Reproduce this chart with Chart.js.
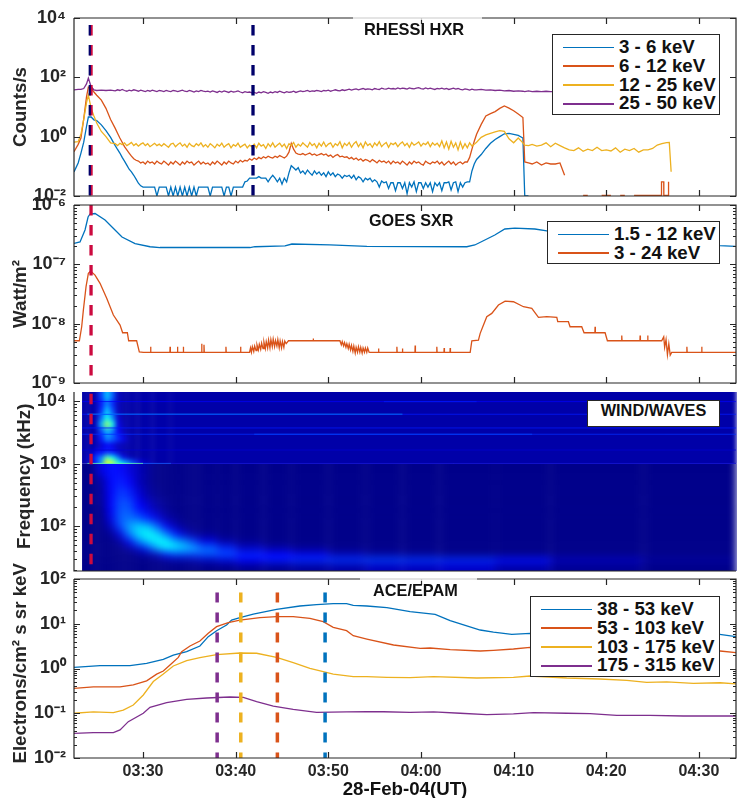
<!DOCTYPE html>
<html>
<head>
<meta charset="utf-8">
<title>28-Feb-04 event</title>
<script src="https://cdn.jsdelivr.net/npm/chart.js@4/dist/chart.umd.js"></script>
<style>
  html, body { margin: 0; padding: 0; background: #fff; overflow: hidden; }
  body { width: 737px; height: 798px; position: relative; font-family: "Liberation Sans", Arial, sans-serif; color: #111; }
  canvas { position: absolute; left: 0; }
  .legend { position: absolute; background: #fff; border: 1.3px solid #262626; box-sizing: border-box; font-weight: bold; font-size: 18.7px; line-height: 18.7px; padding-top: 3px; z-index: 5; }
  .legend div { display: flex; align-items: center; height: 18.8px; white-space: nowrap; }
  .legend i { display: block; height: 1.6px; width: 51px; margin: 0 5px 0 10px; }
  .title { position: absolute; font-weight: bold; white-space: nowrap; z-index: 4; }
  .veil { position: absolute; height: 3px; background: rgba(255,255,255,.75); z-index: 3; }
</style>
</head>
<body>
<script>
// minutes after 03:00 UT
const timeTicks = [30, 40, 50, 60, 70, 80, 90];

// RHESSI HXR, counts/s
const hxrLabels = ['3 - 6 keV', '6 - 12 keV', '12 - 25 keV', '25 - 50 keV'];
const hxrTimes = [
  22.55,23,23.3,23.6,23.9,24.1,24.4,24.7,25,25.5,26,26.5,
  27,27.25,27.5,27.75,28,28.25,28.5,28.75,29,29.25,29.5,29.75,30,30.25,30.5,30.75,31,31.25,31.5,31.75,
  32,32.25,32.5,32.75,33,33.25,33.5,33.75,34,34.25,34.5,34.75,35,35.25,35.5,35.75,36,36.25,36.5,36.75,
  37,37.25,37.5,37.75,38,38.25,38.5,38.75,39,39.25,39.5,39.75,40,40.25,40.5,40.75,41,41.25,41.5,41.75,
  42,42.25,42.5,42.75,43,43.25,43.5,43.75,44,44.25,44.5,44.75,45,45.25,45.5,45.75,46,46.25,46.5,46.75,
  47,47.25,47.5,47.75,48,48.25,48.5,48.75,49,49.25,49.5,49.75,50,50.25,50.5,50.75,51,51.25,51.5,51.75,
  52,52.25,52.5,52.75,53,53.25,53.5,53.75,54,54.25,54.5,54.75,55,55.25,55.5,55.75,56,56.25,56.5,56.75,
  57,57.25,57.5,57.75,58,58.25,58.5,58.75,59,59.25,59.5,59.75,60,60.25,60.5,60.75,61,61.25,61.5,61.75,
  62,62.25,62.5,62.75,63,63.25,63.5,63.75,64,64.25,64.5,64.75,65,65.25,65.5,65.75,
  66,66.5,67,67.5,68,68.5,69,69.5,70,70.5,
  71,71.2,71.6,72,72.5,73,73.5,74,74.5,75,
  75.5,76,76.5,77,77.5,78,78.5,79,79.5,80,
  80.5,81,81.5,82,82.5,83,83.5,84,84.5,85,
  85.5,86,86.5,86.8,87
];
const hxr3to6 = [
  .065,.13,.28,.65,2.2,4.6,4.6,3.7,3.5,2.5,1.6,.95,
  .5,.37,.28,.2,.15,.11,.08,.065,.05,.037,.027,.022,.02,.02,.02,.02,.02,.02,.01,.02,
  .02,.02,.02,.01,.02,.01,.02,.01,.02,.01,.02,.01,.02,.01,.02,.01,.02,.02,.02,.02,
  .02,.01,.02,.02,.02,.02,.02,.01,.02,.02,.01,.02,.02,.02,.02,.02,.03,.032,.04,.04,
  .04,.04,.045,.04,.04,.04,.03,.04,.05,.04,.03,.04,.025,.04,.03,.06,.105,.09,.075,.09,
  .06,.07,.055,.075,.06,.05,.07,.055,.065,.05,.06,.045,.065,.05,.06,.045,.055,.05,.04,.05,
  .045,.05,.04,.05,.035,.045,.04,.03,.04,.035,.04,.03,.035,.03,.02,.032,.028,.03,.018,.028,
  .028,.015,.028,.028,.018,.028,.012,.028,.02,.03,.014,.028,.028,.018,.028,.02,.028,.014,.028,.022,
  .028,.015,.028,.028,.03,.016,.028,.03,.014,.028,.02,.028,.03,.03,.07,.12,
  .17,.25,.4,.6,.8,1,1.25,1.3,1.2,1.1,
  .9,.01,.01
];
const hxr6to12 = [
  .31,.55,.9,4,22,47,44,32,25,17,9,3.8,
  1.9,1.3,.9,.65,.46,.36,.28,.22,.18,.16,.15,.13,.14,.12,.15,.13,.14,.12,.15,.13,
  .12,.15,.13,.11,.14,.12,.15,.13,.11,.14,.12,.15,.13,.14,.11,.13,.15,.12,.14,.12,
  .13,.11,.14,.12,.15,.13,.11,.14,.12,.15,.13,.12,.15,.13,.16,.14,.16,.15,.18,.16,
  .19,.17,.2,.18,.21,.19,.22,.2,.19,.22,.2,.23,.21,.19,.22,.3,.6,.38,.28,.26,
  .25,.27,.24,.26,.28,.24,.26,.23,.25,.27,.24,.26,.22,.24,.2,.23,.25,.21,.22,.2,
  .21,.18,.2,.17,.19,.16,.18,.15,.17,.16,.14,.17,.15,.13,.16,.14,.15,.13,.15,.12,
  .15,.13,.14,.12,.15,.13,.11,.14,.12,.15,.13,.14,.12,.11,.15,.13,.12,.14,.13,.15,
  .12,.14,.11,.13,.15,.12,.14,.11,.13,.14,.12,.14,.14,.2,.38,.7,
  1.2,2.6,5,6,7,9,10.8,9.2,7.5,5.8,
  4.4,.14,.13,.12,.14,.11,.13,.12,.12,.13,
  .05,null,null,null,.0105,.0105,null,null,.0105,.0105,
  .0105,null,.0105,.0105,null,.0105,.0105,.0105,.0105,.0105,
  .0105,.0105
];
const hxr6to12SpikeTimes = [85.95,85.96,86.2,86.21,86.68,86.69,86.75];
const hxr6to12Spikes = [.0105,.03,.03,.0105,.0105,.03,.03];
const hxr12to25 = [
  .65,.68,1.2,3.8,14,25,9,5,2.9,1.5,1,.62,
  .58,.5,.6,.54,.62,.5,.56,.64,.5,.58,.48,.56,.62,.5,.58,.46,.52,.6,.5,.56,
  .48,.58,.5,.44,.56,.6,.46,.54,.62,.48,.56,.44,.6,.5,.46,.58,.5,.62,.46,.54,
  .44,.58,.5,.42,.56,.48,.6,.44,.52,.58,.42,.54,.48,.6,.44,.5,.56,.42,.52,.46,
  .56,.42,.6,.48,.54,.4,.58,.46,.62,.44,.52,.6,.46,.56,.4,.58,.5,.64,.44,.56,
  .48,.62,.52,.44,.64,.5,.58,.42,.6,.48,.66,.46,.56,.62,.44,.58,.5,.68,.42,.6,
  .5,.64,.44,.58,.68,.46,.6,.42,.66,.5,.58,.44,.62,.5,.68,.46,.56,.64,.44,.6,
  .54,.62,.46,.58,.66,.5,.6,.44,.64,.52,.58,.66,.48,.6,.54,.66,.46,.62,.52,.6,
  .46,.72,.42,.66,.38,.7,.44,.62,.36,.66,.4,.58,.42,.62,.48,.55,
  .65,.95,1.15,1.3,1.45,1.6,1.5,.85,.62,.9,
  .62,.52,.5,.55,.48,.52,.62,.46,.6,.5,
  .42,.36,.34,.42,.32,.38,.34,.44,.34,.36,
  .33,.42,.3,.38,.34,.4,.3,.36,.36,.4,
  .52,.58,.63,.64,.066
];
const hxr25to50 = [
  38,39,39,42,60,94,48,38,36,37,36,37,
  35,38,36,39,36,34,37,35,38,36,34,37,35,33,36,34,37,35,33,36,
  35,33,36,34,33,36,35,33,35,37,34,33,36,34,32,35,33,36,34,33,
  34,32,35,33,31,34,32,35,33,31,34,32,33,35,32,30,33,31,32,30,
  31,29,32,30,33,31,29,32,30,33,31,34,32,30,33,31,32,34,31,33,
  35,33,34,36,33,35,34,36,35,33,36,35,37,34,36,38,36,35,38,36,
  38,40,37,39,41,38,40,42,39,41,40,38,42,40,39,43,41,40,43,41,
  42,40,44,41,43,42,40,44,42,41,43,45,42,40,44,41,43,41,39,42,
  41,43,40,42,39,41,43,40,42,39,38,41,39,37,40,38,
  38,39,37,38,36,37,35,36,34,35,
  34,33,35,33,34,33,34,33,33
];

// GOES SXR, in 1e-7 W/m2 and 1e-9 W/m2
const sxrLabels = ['1.5 - 12 keV', '3 - 24 keV'];
const sxrSoftTimes = [22.55,23.2,23.74,24.07,24.28,24.82,25.9,26.76,27.73,29.14,30.76,31.83,41.54,42.08,45.32,46.07,50.17,54.16,64.95,65.81,66.68,67.97,69.05,70.13,72.29,73.58,79.3,85.5,92.24,93.97];
const sxrSoft = [2.26,2.38,3.79,6.28,7.05,7.19,5.58,4.09,2.89,2.24,1.98,1.92,1.92,1.98,2.04,2.2,2.12,2.01,1.98,2.12,2.47,3.12,3.94,4.09,3.94,3.65,2.95,2.5,2.06,2.01];
const sxrHardTimes = [
  22.55,23.13,23.38,23.56,23.85,24.1,24.35,24.82,25.36,26.08,26.8,27.52,27.8,28.31,28.45,29.31,29.6,30.03,
  30.8,30.82,30.85,32.9,32.92,32.95,33.7,33.72,33.75,34.33,34.35,34.38,36.3,36.33,36.36,36.56,36.58,36.61,38.93,38.95,38.98,40.5,40.53,40.56,
  41.5,41.6,41.7,41.8,41.95,42.05,42.2,42.3,42.45,42.55,42.7,42.8,42.95,43.05,43.2,43.3,43.45,43.55,43.7,43.8,43.95,44.05,44.2,44.3,44.45,44.55,44.7,44.8,44.95,45.05,45.2,45.3,45.45,45.7,
  48.35,48.37,48.4,51.25,51.4,51.5,51.65,51.75,51.9,52,52.15,52.25,52.4,52.5,52.65,52.75,52.9,53,53.15,53.25,53.4,53.5,53.65,53.75,53.9,54,54.15,54.25,54.4,54.5,
  55.4,55.42,55.45,57.38,57.4,57.43,57.98,58,58.03,59.35,59.37,59.4,61.69,61.71,61.74,62.48,62.5,62.53,63.13,63.15,63.18,
  65.31,65.49,66.2,66.39,66.67,67.1,67.64,68.36,69.08,69.98,71.06,71.96,72.68,73.58,74.66,74.76,75.91,76.09,77.35,77.6,
  78.77,78.79,78.82,79.87,80.12,81.65,81.67,81.7,83.63,83.65,83.68,84.45,84.47,84.5,
  85.98,86.2,86.3,86.45,86.6,86.75,86.9,87.06,88.68,88.7,88.73,90.28,90.3,90.33,94
];
const sxrHard = [
  5.15,5.15,8.87,16.9,42,70.5,77.1,66,47.8,26.7,14,9.47,7.03,7.03,5.15,5.15,3.35,3.28,
  3.28,4.08,3.28,3.28,4.08,3.28,3.28,4.08,3.28,3.28,4.08,3.28,3.28,4.6,3.28,3.28,4.4,3.28,3.28,4.08,3.28,3.28,4.08,3.28,
  3.3,3.9,3.3,4.1,3.4,4.2,3.5,4.4,3.6,4.5,3.7,4.7,3.8,4.9,3.8,5,3.9,5.3,3.9,5.4,4.1,5.5,4.1,5.2,4.2,5.4,3.9,5.1,3.9,5,4,5.1,4.6,5.15,
  5.15,5.6,5.15,5.15,4.4,5,4.2,4.8,4,4.6,3.8,4.5,3.6,4.3,3.4,4.2,3.2,4,3.3,4.1,3.3,4,3.2,3.9,3.3,3.9,3.3,3.9,3.3,3.28,
  3.28,3.8,3.28,3.28,4.08,3.28,3.28,3.8,3.28,3.28,4.3,3.28,3.28,4.08,3.28,3.28,3.9,3.28,3.28,3.9,3.28,
  3.28,5.15,5.29,6.86,8.87,13.1,14.9,20.6,24,23.4,19.3,18.1,12.8,13.1,12.8,10.8,10.8,8.87,8.87,7.03,
  7.03,8.9,7.03,7.03,5.15,5.15,6.3,5.15,5.15,6.3,5.15,5.15,6.3,5.15,
  5.15,6,4,5.4,3,4.6,2.95,3.28,3.28,4.08,3.28,3.28,4.08,3.28,3.28
];

// WIND/WAVES, colour levels 0-100 on the jet scale
const wavesLowTimes = [23.42,25,26,27,28,29,30,31,32,33,34,35,36,38,40,43,46,50,54,58,62,68,74,84,94];
const wavesLowFreqs = [1000,634,408,262,169,117,87,65,50,40,32,26,19.4];
const wavesLowLevels = [
  [1,10,14,13,9,6,3,1,1,1,1,1,1,1,1,1,1,1,1,1,1,1,1,1],
  [1,4,13,15,12,6,3,1,1,1,1,1,1,1,1,1,1,1,1,1,1,1,1,1],
  [1,3,12,18,16,9,4,2,1,1,1,1,1,1,1,1,1,1,1,1,1,1,1,1],
  [1,2,12,20,20,13,8,4,2,1,1,1,1,1,1,1,1,1,1,1,1,1,1,1],
  [1,1,10,21,23,20,15,9,4,2,1,1,1,1,1,1,1,1,1,1,1,1,1,1],
  [1,1,6,19,28,33,31,22,11,5,2,1,1,1,1,1,1,1,1,1,1,1,1,1],
  [1,1,2,9,24,34,38,34,25,15,7,3,2,1,1,1,1,1,1,1,1,1,1,1],
  [1,1,1,3,11,24,32,37,37,30,25,18,10,4,2,1,1,1,1,1,1,1,1,1],
  [1,1,1,1,3,8,17,28,36,36,33,30,24,16,7,4,2,1,1,1,1,1,1,1],
  [1,1,1,1,1,2,3,6,14,18,18,18,20,20,16,13,10,5,3,2,1,1,1,1],
  [1,1,1,1,1,1,1,1,2,3,3,4,6,9,12,15,17,18,19,18,17,14,6,3],
  [1,1,1,1,1,1,1,1,1,1,1,1,1,1,2,2,3,4,6,6,7,4,2,1]
];
const wavesHighTimes = [23.42,24,24.6,25.2,25.8,26.4,27,27.6,28.2,28.8,29.4,30,31,33,94];
const wavesHighFreqs = [13900,10370,8020,6205,4800,3710,2870,2220,1716,1376,1146,1000];
const wavesHighLevels = [
  [4,4,5,18,32,22,6,4,4,4,4,4,4,4],
  [4,4,5,14,25,16,6,4,4,4,4,4,4,4],
  [4,4,5,16,32,20,6,4,4,4,4,4,4,4],
  [4,4,5,22,38,26,8,4,4,4,4,4,4,4],
  [4,4,6,30,52,40,10,5,4,4,4,4,4,4],
  [4,4,5,18,30,24,12,6,4,4,4,4,4,4],
  [4,4,5,14,26,22,16,10,5,4,4,4,4,4],
  [4,4,5,8,12,10,6,5,4,4,4,4,4,4],
  [4,5,10,12,16,14,8,5,4,4,4,4,4,4],
  [4,8,18,25,45,38,24,10,6,4,4,4,4,4],
  [4,7,15,28,60,55,40,32,25,18,10,6,4,4]
];
const wavesBandFreqs = [9770,9770,6136,6136,3710,2942,2942,1650,1010,1010,1010];
const wavesBandFrom = [23.42,56,23.42,24,23.42,23.42,42,23.42,24,30,33];
const wavesBandTo = [94,66,94,58,94,94,72,94,30,33,94];
const wavesBandLevels = [12,20,15,36,15,17,22,8,46,20,8];

// ACE/EPAM
const epamLabels = ['38 - 53 keV', '53 - 103 keV', '103 - 175 keV', '175 - 315 keV'];
const epam38Times = [22.55,25.36,28.59,30.39,32.19,33.27,34.71,36.14,37.04,37.94,39.02,39.56,40.46,41.9,44.41,46.93,48.73,50.53,51.97,52.69,54.16,56.32,58.83,61.53,63.15,66.39,67.82,69.8,71.78,92.24,94.07];
const epam38 = [1.06,1.16,1.16,1.3,1.6,2,2.38,3.18,5.14,7,9.4,12.1,13.7,16.5,21,24.9,26.7,28.1,28.1,25.8,24.9,22.9,18.6,16.2,11.7,7.25,6.5,5.8,6.1,5.8,5.14];
const epam53Times = [22.55,24.64,27.52,28.95,30.39,31.47,32.19,32.91,33.81,34.17,35.07,36.14,37.04,37.94,39.2,40.46,42.62,44.41,46.21,48.01,49.45,50.53,51.97,52.69,54.16,57.04,59.91,60.99,63.15,66.39,67.82,69.98,71.78,92.28,94.07];
const epam53 = [.36,.39,.39,.43,.53,.75,.88,1.2,1.77,2.38,3.18,4.1,6.1,8.6,10.6,12.1,13.7,14.4,14.4,13.2,11.1,8.3,7,5.4,4.55,3.35,2.82,2.87,2.64,2.46,2.55,2.73,2.97,2.46,2.26];
const epam103Times = [22.55,24.64,26.8,27.87,28.95,30.03,31.11,32.19,33.27,34.71,36.14,37.94,40.46,42.26,44.41,46.21,48.01,49.45,50.53,52.69,54.16,56.32,58.83,61.35,66.03,69.98,71.78,75.73,79.33,82.21,84.36,86.52,89.4,92.28,94.07];
const epam103 = [.1,.107,.103,.118,.153,.256,.51,.75,1.14,1.5,1.75,2.04,2.22,2.19,1.77,1.35,1.01,.85,.75,.656,.656,.635,.625,.656,.614,.635,.68,.614,.582,.543,.49,.5,.466,.48,.45];
const epam175Times = [22.55,24.64,26.8,27.52,28.41,30.03,30.75,32.55,34.71,36.86,39.38,40.82,42.26,44.06,46.21,48.73,51.97,54.16,55.96,58.83,61.35,64.23,67.1,69.98,72.14,75.73,78.25,81.13,84.72,88.32,94.07];
const epam175 = [.0356,.0368,.0368,.0423,.0649,.1,.136,.172,.205,.219,.231,.226,.182,.145,.122,.105,.107,.108,.108,.105,.107,.1,.093,.097,.103,.1,.0985,.09,.09,.0868,.0868];

// event markers (minutes after 03:00)
const hxrMarkers = [24.25, 24.39, 41.87];
const sxrMarker = 24.39;
const wavesMarker = 24.39;
const epamMarkers = [38, 40.55, 44.5, 49.65];

const BLUE = '#0072BD', ORANGE = '#D95319', YELLOW = '#EDB120', PURPLE = '#7E2F8E';
const NAVY = '#00006a', CRIMSON = '#cc0a3f', INK = '#262626';
const FONT = '"Liberation Sans", Arial, sans-serif';

function pts(times, vals, unit = 1) {
  return vals.map((v, i) => ({ x: times[i], y: v === null ? null : v * unit }));
}

function trace(data, color, order) {
  return { data, borderColor: color, borderWidth: 1.3, pointRadius: 0, tension: 0, order };
}

function marker(t, yTop, yBottom, color, order = 0, dash = [10.5, 9.5], width = 3.3) {
  return {
    data: [{ x: t, y: yTop }, { x: t, y: yBottom }],
    borderColor: color, borderWidth: width, borderDash: dash, pointRadius: 0, order
  };
}

function logTicks(lo, hi) {
  const out = [];
  for (let e = lo; e < hi; e++) {
    for (let m = 1; m < 10; m++) out.push(Number(m + 'e' + e));
  }
  out.push(Number('1e' + hi));
  return out;
}

const isDecade = v => Math.abs(Math.log10(v) - Math.round(Math.log10(v))) < 1e-6;
const SUPER = { '-': '⁻', 0: '⁰', 1: '¹', 2: '²', 3: '³', 4: '⁴', 5: '⁵', 6: '⁶', 7: '⁷', 8: '⁸', 9: '⁹' };
const powerLabel = v => isDecade(v)
  ? '10' + String(Math.round(Math.log10(v))).split('').map(c => SUPER[c]).join('')
  : '';
const clockLabel = m => {
  const hour = 3 + Math.floor(m / 60);
  return '0' + hour + ':' + String(m % 60).padStart(2, '0');
};

function jet(level) {
  const v = level / 100;
  const c = k => Math.round(255 * Math.max(0, Math.min(1, 1.5 - Math.abs(4 * v - k))));
  return [c(3), c(2), c(1)];
}

// axes box and inward tick marks, MATLAB style
const frameTicks = {
  id: 'frameTicks',
  afterDraw(chart, args, opts) {
    const { ctx, chartArea: a, scales: { x, y } } = chart;
    ctx.save();
    ctx.strokeStyle = INK;
    ctx.lineWidth = 1.2;
    ctx.beginPath();
    ctx.moveTo(a.left, a.top);
    ctx.lineTo(a.left, a.bottom);
    ctx.lineTo(a.right, a.bottom);
    if (!opts.open) {
      ctx.lineTo(a.right, a.top);
      ctx.lineTo(a.left, a.top);
    }
    y.ticks.forEach(t => {
      const py = Math.round(y.getPixelForValue(t.value)) + .5;
      const len = isDecade(t.value) ? 6 : 3;
      ctx.moveTo(a.left, py);
      ctx.lineTo(a.left + len, py);
      if (!opts.open) {
        ctx.moveTo(a.right, py);
        ctx.lineTo(a.right - len, py);
      }
    });
    if (!opts.open) {
      x.ticks.forEach(t => {
        const px = Math.round(x.getPixelForValue(t.value)) + .5;
        ctx.moveTo(px, a.bottom);
        ctx.lineTo(px, a.bottom - 6);
        ctx.moveTo(px, a.top);
        ctx.lineTo(px, a.top + 6);
      });
    }
    ctx.stroke();
    ctx.restore();
  }
};
Chart.register(frameTicks);

// spectrogram cells, placed through the x and y scales
function paintCells(chart, times, freqs, levels, blur) {
  const { ctx, chartArea: a, scales: { x, y }, width, height } = chart;
  const off = document.createElement('canvas');
  off.width = width;
  off.height = height;
  const o = off.getContext('2d');
  const left = x.getPixelForValue(times[0]);
  const top = y.getPixelForValue(freqs[0]);
  const bottom = y.getPixelForValue(freqs[freqs.length - 1]);
  levels.forEach((row, r) => {
    const y0 = y.getPixelForValue(freqs[r]);
    const y1 = y.getPixelForValue(freqs[r + 1]);
    row.forEach((level, c) => {
      const x0 = x.getPixelForValue(times[c]);
      const x1 = x.getPixelForValue(times[c + 1]);
      const [cr, cg, cb] = jet(level);
      o.fillStyle = `rgb(${cr},${cg},${cb})`;
      // stretch the outer cells so the blur has no soft border
      o.fillRect(c === 0 ? left - 30 : x0, r === 0 ? y0 - 30 : y0,
        (c === row.length - 1 ? a.right + 30 : x1) - (c === 0 ? left - 30 : x0),
        (r === levels.length - 1 ? bottom + 30 : y1) - (r === 0 ? y0 - 30 : y0) + .5);
    });
  });
  ctx.save();
  ctx.beginPath();
  ctx.rect(left, top, a.right - left + 1, bottom - top);
  ctx.clip();
  ctx.filter = `blur(${blur}px)`;
  ctx.drawImage(off, 0, 0);
  ctx.restore();
}

const wavesCells = {
  id: 'wavesCells',
  beforeDatasetsDraw(chart) {
    paintCells(chart, wavesLowTimes, wavesLowFreqs, wavesLowLevels, 4);
    paintCells(chart, wavesHighTimes, wavesHighFreqs, wavesHighLevels, 2.5);
  }
};

function makePanel({ top, bottom, padTop = 20, padBottom = 20, yMin, yMax, yTicks, yTitle, titlePad = 10, datasets, frame = {}, xLabels = false, plugins = [] }) {
  const canvas = document.createElement('canvas');
  canvas.width = 737;
  canvas.height = padTop + (bottom - top) + padBottom;
  canvas.style.top = (top - padTop) + 'px';
  document.body.appendChild(canvas);
  const bold = size => ({ family: FONT, weight: 'bold', size });
  return new Chart(canvas, {
    type: 'line',
    data: { datasets },
    plugins,
    options: {
      responsive: false,
      animation: false,
      devicePixelRatio: 1,
      layout: { padding: { left: 0, right: 1, top: padTop, bottom: xLabels ? 0 : padBottom } },
      plugins: { legend: { display: false }, tooltip: { enabled: false }, frameTicks: frame },
      scales: {
        x: {
          type: 'linear', min: 22.55, max: 94,
          grid: { display: false, drawTicks: false },
          border: { display: false },
          afterBuildTicks: s => { s.ticks = timeTicks.map(value => ({ value })); },
          afterFit: s => { s.height = xLabels ? padBottom : 0; },
          ticks: { display: xLabels, padding: 4, maxRotation: 0, autoSkip: false, color: INK, font: bold(16), callback: clockLabel },
          title: { display: xLabels, text: '28-Feb-04(UT)', color: '#111', font: bold(18.7), padding: { top: 0, bottom: 7 } }
        },
        y: {
          type: 'logarithmic', min: yMin, max: yMax,
          grid: { display: false, drawTicks: false },
          border: { display: false },
          afterBuildTicks: s => { s.ticks = yTicks.map(value => ({ value })); },
          afterFit: s => { s.width = 74; },
          ticks: { padding: 8, autoSkip: false, color: INK, font: bold(18), callback: powerLabel },
          title: { display: true, text: yTitle, color: INK, font: bold(18.7), padding: { top: titlePad, bottom: 0 } }
        }
      }
    }
  });
}

makePanel({
  top: 18, bottom: 196, yMin: 1e-2, yMax: 1e4, yTicks: [1e-2, 1, 1e2, 1e4], yTitle: 'Counts/s',
  datasets: [
    trace(pts(hxrTimes, hxr3to6), BLUE, 5),
    trace(pts(hxrTimes, hxr6to12), ORANGE, 4),
    trace(pts(hxr6to12SpikeTimes, hxr6to12Spikes), ORANGE, 4),
    trace(pts(hxrTimes, hxr12to25), YELLOW, 3),
    trace(pts(hxrTimes, hxr25to50), PURPLE, 2),
    marker(hxrMarkers[1], 5800, 1e-2, CRIMSON, 1),
    marker(hxrMarkers[0], 5800, 1e-2, NAVY, 0, [10.5, 9.5], 2.2),
    marker(hxrMarkers[2], 5800, 1e-2, NAVY, 0)
  ]
});

makePanel({
  top: 205, bottom: 383, yMin: 1e-9, yMax: 1e-6, yTicks: logTicks(-9, -6), yTitle: 'Watt/m²',
  datasets: [
    trace(pts(sxrSoftTimes, sxrSoft, 1e-7), BLUE, 3),
    trace(pts(sxrHardTimes, sxrHard, 1e-9), ORANGE, 2),
    marker(sxrMarker, 1e-6, 1e-9, CRIMSON, 0)
  ]
});

makePanel({
  top: 392, bottom: 571, yMin: 19.4, yMax: 13900, yTicks: logTicks(1, 4).filter(v => v >= 19.4),
  yTitle: '\u00a0\u00a0Frequency (kHz)', titlePad: 14, frame: { open: true }, plugins: [wavesCells],
  datasets: [
    ...wavesBandFreqs.map((f, i) => {
      const [r, g, b] = jet(wavesBandLevels[i]);
      return {
        data: [{ x: wavesBandFrom[i], y: f }, { x: wavesBandTo[i], y: f }],
        borderColor: `rgba(${r},${g},${b},.75)`, borderWidth: 1, pointRadius: 0, order: 2
      };
    }),
    marker(wavesMarker, 13000, 19.4, CRIMSON, 0)
  ]
});

makePanel({
  top: 579, bottom: 758, padTop: 40, padBottom: 50, yMin: 1e-2, yMax: 1e2, yTicks: logTicks(-2, 2),
  yTitle: '\u00a0\u00a0Electrons/cm² s sr keV', xLabels: true,
  datasets: [
    trace(pts(epam38Times, epam38), BLUE, 8),
    trace(pts(epam53Times, epam53), ORANGE, 7),
    trace(pts(epam103Times, epam103), YELLOW, 6),
    trace(pts(epam175Times, epam175), PURPLE, 5),
    marker(epamMarkers[0], 50, 1e-2, PURPLE, 0, [10, 10], 3.5),
    marker(epamMarkers[1], 50, 1e-2, YELLOW, 0, [10, 10], 3.5),
    marker(epamMarkers[2], 50, 1e-2, ORANGE, 0, [10, 10], 3.5),
    marker(epamMarkers[3], 50, 1e-2, BLUE, 0, [10, 10], 3.5)
  ]
});

function addLegend(labels, colors, left, top, width, height) {
  const box = document.createElement('div');
  box.className = 'legend';
  box.style.cssText = `left:${left}px;top:${top}px;width:${width}px;height:${height}px`;
  labels.forEach((label, i) => {
    const row = document.createElement('div');
    const line = document.createElement('i');
    line.style.background = colors[i];
    row.append(line, label);
    box.appendChild(row);
  });
  document.body.appendChild(box);
}

function addTitle(text, left, top, size, boxed) {
  const el = document.createElement('div');
  el.className = 'title';
  el.textContent = text;
  el.style.cssText = `left:${left}px;top:${top}px;font-size:${size}px;line-height:${size + 2}px`;
  if (boxed) {
    el.style.cssText += ';background:#fff;border:1.3px solid #262626;box-sizing:border-box;width:133px;height:27px;text-align:center;padding-top:0';
  }
  document.body.appendChild(el);
}

function addVeil(left, width, top) {
  const el = document.createElement('div');
  el.className = 'veil';
  el.style.cssText = `left:${left}px;width:${width}px;top:${top}px`;
  document.body.appendChild(el);
}

const lineColors = [BLUE, ORANGE, YELLOW, PURPLE];
addLegend(hxrLabels, lineColors, 552, 34, 168, 81);
addLegend(sxrLabels, lineColors, 547, 221, 173, 43);
addLegend(epamLabels, lineColors, 530, 596, 190, 81);

addVeil(353, 129, 17);
addVeil(360, 117, 578);
addTitle('RHESSI HXR', 364, 20, 16.4);
addTitle('GOES SXR', 369, 211, 16.2);
addTitle('WIND/WAVES', 587, 400, 16.3, true);
addTitle('ACE/EPAM', 373, 581, 16.3);
</script>
</body>
</html>
